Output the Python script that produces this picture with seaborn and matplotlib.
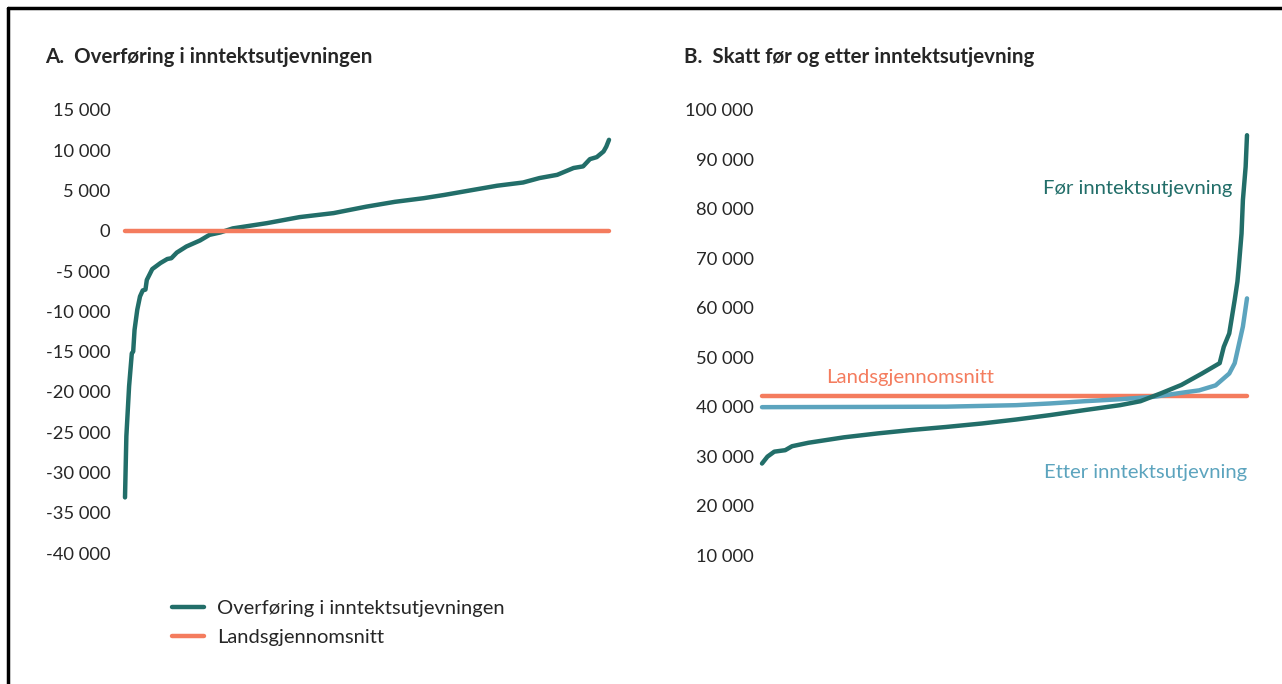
import numpy as np
import pandas as pd
import matplotlib
matplotlib.use("Agg")
import matplotlib.pyplot as plt
import seaborn as sns
from matplotlib.lines import Line2D
from matplotlib.ticker import FuncFormatter

# ---- data (municipalities ranked by value) ----
rank_a = [1, 2, 4, 6, 7, 8, 10, 12, 14, 16, 17, 21, 27, 32, 35, 39, 46, 56, 63,
          71, 80, 105, 129, 154, 178, 199, 220, 235, 257, 274, 293, 305, 318,
          330, 337, 342, 347, 352, 354, 356]
transfer = [-33100, -25500, -19300, -15200, -15000, -12300, -9800, -8150, -7400,
            -7300, -6100, -4750, -4000, -3500, -3400, -2700, -1950, -1200, -500,
            -200, 300, 950, 1700, 2200, 3000, 3600, 4050, 4450, 5100, 5600,
            6000, 6550, 6950, 7800, 8000, 8900, 9150, 9850, 10450, 11300]
avg_a = 0

rank_before = [1, 5, 10, 18, 23, 35, 61, 86, 111, 136, 162, 187, 212, 237, 263,
               278, 293, 308, 323, 336, 339, 343, 345, 347, 349, 350, 352, 353,
               355, 356]
tax_before = [28500, 29900, 30900, 31200, 32000, 32700, 33800, 34600, 35300,
              35900, 36600, 37400, 38300, 39300, 40300, 41100, 42700, 44400,
              46700, 48800, 52100, 54800, 58200, 61600, 65300, 68300, 75000,
              81800, 88500, 94900]

rank_after = [1, 82, 136, 187, 212, 237, 263, 288, 313, 321, 333, 338, 343, 347,
              350, 353, 356]
tax_after = [39900, 39950, 40000, 40300, 40650, 41100, 41500, 42000, 43000,
             43300, 44300, 45500, 46700, 48800, 52500, 56200, 61900]
avg_b = 42100

n_muni = 356

# ---- styling ----
TEAL = "#226e69"
ORANGE = "#f47c5e"
LIGHT = "#5ca4be"

sns.set_style("white")
plt.rcParams["font.family"] = ["Lato", "DejaVu Sans"]

fig = plt.figure(figsize=(12.82, 6.84), dpi=100)
W, H = 1282, 684


def px_axes(x0, x1, y_top, y_bot):
    return fig.add_axes([x0 / W, 1 - y_bot / H, (x1 - x0) / W, (y_bot - y_top) / H])


def fmt(v, _pos):
    return f"{v:,.0f}".replace(",", " ")


ax_a = px_axes(125, 609, 110, 553)
ax_b = px_axes(762, 1247, 110, 555)

df_a = pd.DataFrame({"rank": rank_a, "value": transfer})
sns.lineplot(data=df_a, x="rank", y="value", ax=ax_a, color=TEAL, lw=3.2,
             label="Overføring i inntektsutjevningen", clip_on=False)
ax_a.plot([1, n_muni], [avg_a, avg_a], color=ORANGE, lw=3.2,
          label="Landsgjennomsnitt", clip_on=False, solid_capstyle="round")
ax_a.set_ylim(-40000, 15000)
ax_a.set_yticks(np.arange(-40000, 15001, 5000))

df_b = pd.concat([
    pd.DataFrame({"rank": rank_before, "value": tax_before, "serie": "Før"}),
    pd.DataFrame({"rank": rank_after, "value": tax_after, "serie": "Etter"}),
])
ax_b.plot([1, n_muni], [avg_b, avg_b], color=ORANGE, lw=3.2, clip_on=False,
          solid_capstyle="round", zorder=1)
sns.lineplot(data=df_b, x="rank", y="value", hue="serie", ax=ax_b,
             palette={"Før": TEAL, "Etter": LIGHT}, hue_order=["Etter", "Før"],
             lw=3.2, legend=False, clip_on=False)
ax_b.set_ylim(10000, 100000)
ax_b.set_yticks(np.arange(10000, 100001, 10000))

ax_b.text(345, 84200, "Før inntektsutjevning", color=TEAL, fontsize=14.6,
          ha="right", va="center")
ax_b.text(48, 45800, "Landsgjennomsnitt", color=ORANGE, fontsize=14.6,
          ha="left", va="center")
ax_b.text(356, 26600, "Etter inntektsutjevning", color=LIGHT, fontsize=14.6,
          ha="right", va="center")

for ax, pad in ((ax_a, 10.5), (ax_b, 6)):
    ax.set_xlim(1, n_muni)
    ax.set_xticks([])
    ax.set_xlabel("")
    ax.set_ylabel("")
    ax.yaxis.set_major_formatter(FuncFormatter(fmt))
    ax.tick_params(axis="y", length=0, pad=pad, labelsize=13.2)
    ax.set_facecolor("none")
    for s in ax.spines.values():
        s.set_visible(False)

ax_a.legend(loc="upper left", bbox_to_anchor=(172 / W, 1 - 600 / H),
            bbox_transform=fig.transFigure, frameon=False, fontsize=14.5,
            handlelength=1.6, handletextpad=0.65, labelspacing=0.6,
            borderaxespad=0, borderpad=0)

fig.text(45 / W, 1 - 57 / H, "A.  Overføring i inntektsutjevningen",
         fontsize=14.8, fontweight="bold", va="center")
fig.text(684 / W, 1 - 57 / H, "B.  Skatt før og etter inntektsutjevning",
         fontsize=14.8, fontweight="bold", va="center")

# frame on top and left edge
fig.add_artist(Line2D([8 / W, 1], [1 - 8 / H, 1 - 8 / H], color="black", lw=2.5))
fig.add_artist(Line2D([8 / W, 8 / W], [0, 1 - 8 / H], color="black", lw=2.5))

fig.savefig("out.png", dpi=100)
